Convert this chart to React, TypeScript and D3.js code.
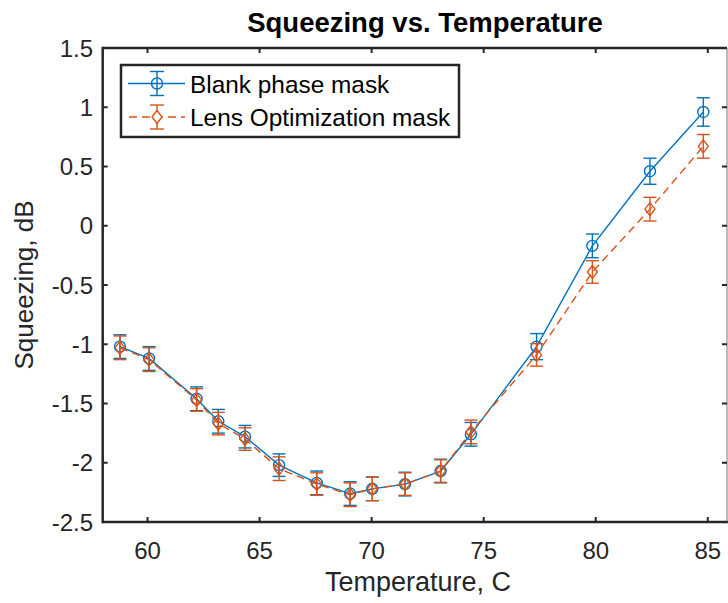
import React from "react";
import * as d3 from "d3";

const temps = [58.77, 60.07, 62.19, 63.16, 64.35, 65.87, 67.55, 69.04, 70.03, 71.49, 73.08, 74.43, 77.36, 79.85, 82.42, 84.8];
const blankVals = [-1.02, -1.12, -1.46, -1.65, -1.78, -2.02, -2.17, -2.26, -2.22, -2.18, -2.07, -1.76, -1.02, -0.17, 0.46, 0.96];
const blankErr = [0.1, 0.1, 0.1, 0.1, 0.095, 0.095, 0.1, 0.1, 0.1, 0.1, 0.1, 0.1, 0.11, 0.1, 0.11, 0.12];
const lensVals = [-1.03, -1.13, -1.47, -1.67, -1.8, -2.05, -2.18, -2.27, -2.22, -2.18, -2.07, -1.74, -1.09, -0.39, 0.14, 0.67];
const lensErr = [0.1, 0.1, 0.095, 0.095, 0.095, 0.1, 0.095, 0.1, 0.1, 0.095, 0.095, 0.1, 0.095, 0.095, 0.1, 0.1];
const xTicks = [60, 65, 70, 75, 80, 85];
const xTickLabels = ["60", "65", "70", "75", "80", "85"];
const yTicks = [1.5, 1, 0.5, 0, -0.5, -1, -1.5, -2, -2.5];
const yTickLabels = ["1.5", "1", "0.5", "0", "-0.5", "-1", "-1.5", "-2", "-2.5"];
const seriesNames = ["Blank phase mask", "Lens Optimization mask"];

const W = 728;
const H = 603;
const BLUE = "#0072BD";
const ORANGE = "#D95319";
const AX = "#262626";
const FONT = "'Liberation Sans', Arial, Helvetica, sans-serif";

export default function App() {
  const x = d3.scaleLinear().domain([58, 86]).range([102.7, 730.2]);
  const y = d3.scaleLinear().domain([-2.5, 1.5]).range([522, 48]);
  const left = x(58);
  const right = Math.min(x(86), W - 1);
  const top = y(1.5);
  const bottom = y(-2.5);
  const tickLen = 5;
  const capW = 6.5;

  const line = d3
    .line<number>()
    .x((_, i) => x(temps[i]))
    .y((d) => y(d));

  const diamond = (cx: number, cy: number, hw: number, hh: number) =>
    `M${cx},${cy - hh}L${cx + hw},${cy}L${cx},${cy + hh}L${cx - hw},${cy}Z`;

  const errBars = (vals: number[], errs: number[], color: string, key: string) =>
    vals.map((v, i) => {
      const cx = x(temps[i]);
      const y1 = y(v - errs[i]);
      const y2 = y(v + errs[i]);
      return (
        <g key={key + i} stroke={color} strokeWidth={1.4} fill="none">
          <line x1={cx} x2={cx} y1={y1} y2={y2} />
          <line x1={cx - capW} x2={cx + capW} y1={y1} y2={y1} />
          <line x1={cx - capW} x2={cx + capW} y1={y2} y2={y2} />
        </g>
      );
    });

  // legend geometry
  const lgX = 121;
  const lgY = 65;
  const lgW = 338;
  const lgH = 72;
  const row1 = 83.5;
  const row2 = 117;

  return (
    <svg
      width={W}
      height={H}
      style={{ position: "absolute", left: 0, top: 0, background: "#fff" }}
      fontFamily={FONT}
    >
      <rect x={0} y={0} width={W} height={H} fill="#fff" />

      {/* Blue series */}
      <path d={line(blankVals) || ""} fill="none" stroke={BLUE} strokeWidth={1.4} />
      {errBars(blankVals, blankErr, BLUE, "be")}
      {blankVals.map((v, i) => (
        <circle key={"bc" + i} cx={x(temps[i])} cy={y(v)} r={5.5} fill="none" stroke={BLUE} strokeWidth={1.4} />
      ))}

      {/* Orange series */}
      <path d={line(lensVals) || ""} fill="none" stroke={ORANGE} strokeWidth={1.4} strokeDasharray="8,5" />
      {errBars(lensVals, lensErr, ORANGE, "oe")}
      {lensVals.map((v, i) => (
        <path key={"od" + i} d={diamond(x(temps[i]), y(v), 5, 6.5)} fill="none" stroke={ORANGE} strokeWidth={1.4} />
      ))}

      {/* Axes box */}
      <line x1={left} x2={right} y1={top} y2={top} stroke={AX} strokeWidth={2.5} />
      <line x1={left} x2={right + 1} y1={bottom} y2={bottom} stroke={AX} strokeWidth={2.5} />
      <line x1={left} x2={left} y1={top - 1.25} y2={bottom + 1.25} stroke={AX} strokeWidth={2.5} />
      <line x1={right} x2={right} y1={top} y2={bottom} stroke="#777" strokeWidth={1} />

      {xTicks.map((t, i) => (
        <g key={"xt" + i}>
          <line x1={x(t)} x2={x(t)} y1={bottom} y2={bottom - tickLen} stroke={AX} strokeWidth={2} />
          <line x1={x(t)} x2={x(t)} y1={top} y2={top + tickLen} stroke={AX} strokeWidth={2} />
          <text x={x(t)} y={559} textAnchor="middle" fontSize={24} fill={AX}>
            {xTickLabels[i]}
          </text>
        </g>
      ))}
      {yTicks.map((t, i) => (
        <g key={"yt" + i}>
          <line x1={left} x2={left + tickLen} y1={y(t)} y2={y(t)} stroke={AX} strokeWidth={2} />
          <line x1={right} x2={right - tickLen} y1={y(t)} y2={y(t)} stroke={AX} strokeWidth={2} />
          <text x={93} y={y(t) + 8.5} textAnchor="end" fontSize={24} fill={AX}>
            {yTickLabels[i]}
          </text>
        </g>
      ))}

      {/* Labels */}
      <text x={425} y={32} textAnchor="middle" fontSize={27.5} fontWeight="bold" fill="#000">
        Squeezing vs. Temperature
      </text>
      <text x={418} y={591} textAnchor="middle" fontSize={27} fill={AX}>
        Temperature, C
      </text>
      <text
        transform={`translate(33,${(top + bottom) / 2}) rotate(-90)`}
        textAnchor="middle"
        fontSize={26}
        fill={AX}
      >
        Squeezing, dB
      </text>

      {/* Legend */}
      <rect x={lgX} y={lgY} width={lgW} height={lgH} fill="#fff" stroke={AX} strokeWidth={2.5} />
      <g>
        <line x1={128} x2={185} y1={row1} y2={row1} stroke={BLUE} strokeWidth={1.4} />
        <line x1={157} x2={157} y1={row1 - 12} y2={row1 + 12} stroke={BLUE} strokeWidth={1.4} />
        <line x1={150} x2={164} y1={row1 - 12} y2={row1 - 12} stroke={BLUE} strokeWidth={1.4} />
        <line x1={150} x2={164} y1={row1 + 12} y2={row1 + 12} stroke={BLUE} strokeWidth={1.4} />
        <circle cx={157} cy={row1} r={5.5} fill="none" stroke={BLUE} strokeWidth={1.4} />
        <text x={190} y={row1 + 9} fontSize={24.4} fill="#000">
          {seriesNames[0]}
        </text>
      </g>
      <g>
        <line x1={128} x2={185} y1={row2} y2={row2} stroke={ORANGE} strokeWidth={1.4} strokeDasharray="8,5" strokeDashoffset={-1} />
        <line x1={157} x2={157} y1={row2 - 12} y2={row2 + 12} stroke={ORANGE} strokeWidth={1.4} />
        <line x1={150} x2={164} y1={row2 - 12} y2={row2 - 12} stroke={ORANGE} strokeWidth={1.4} />
        <line x1={150} x2={164} y1={row2 + 12} y2={row2 + 12} stroke={ORANGE} strokeWidth={1.4} />
        <path d={diamond(157, row2, 5, 6.5)} fill="#fff" stroke={ORANGE} strokeWidth={1.4} />
        <text x={190} y={row2 + 9} fontSize={24.4} fill="#000">
          {seriesNames[1]}
        </text>
      </g>
    </svg>
  );
}
